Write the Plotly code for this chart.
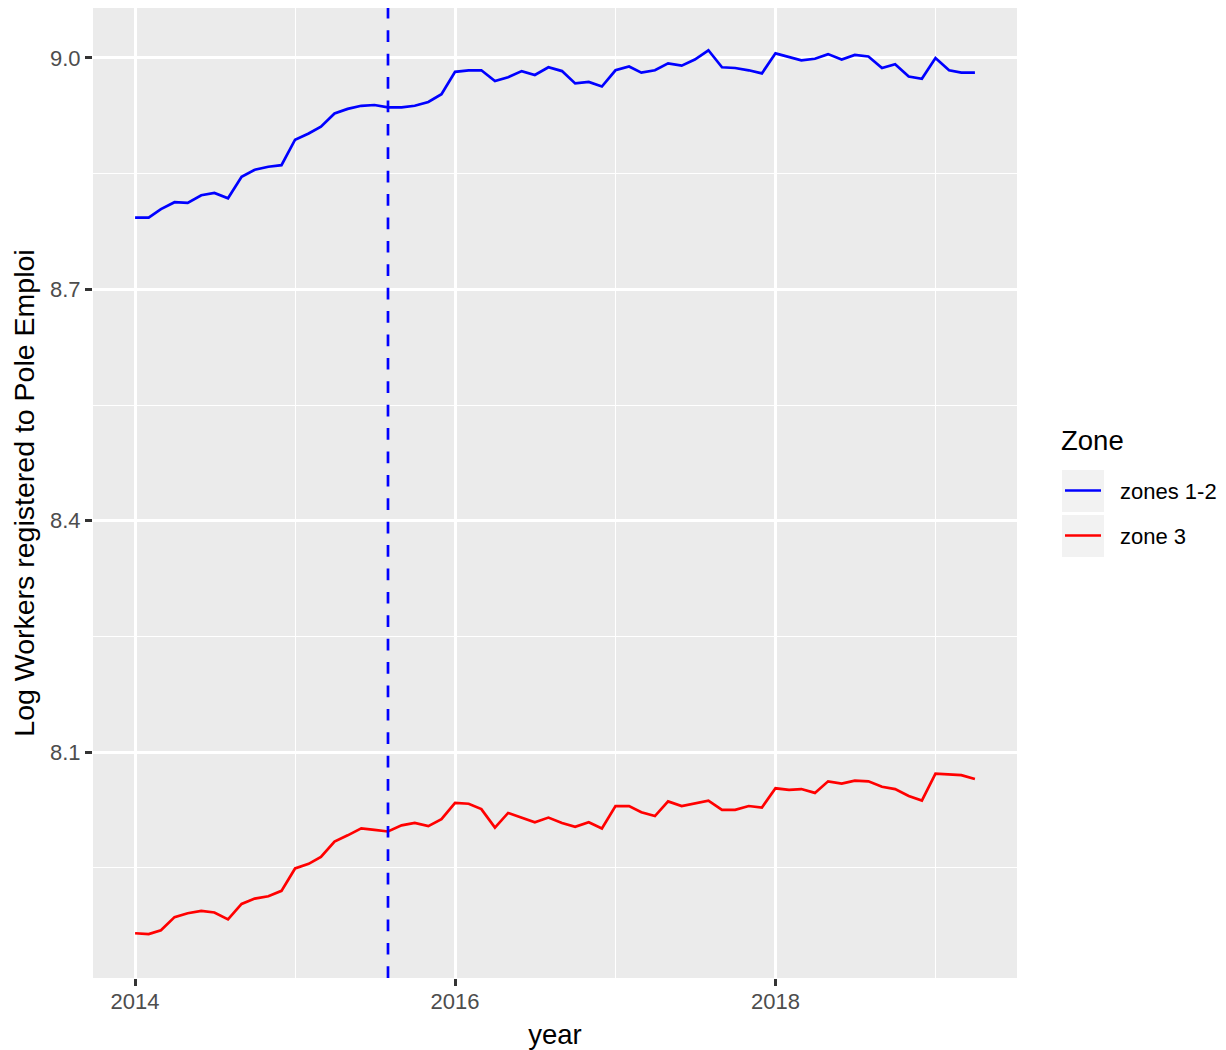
import pandas as pd
import plotly.graph_objects as go

# ---- data (monthly, Jan 2014 - Apr 2019) ----
months = pd.date_range("2014-01-01", "2019-04-01", freq="MS")

zones_12 = [8.793, 8.793, 8.804, 8.813, 8.812, 8.822, 8.825, 8.818, 8.846, 8.855,
            8.859, 8.861, 8.894, 8.902, 8.911, 8.928, 8.934, 8.938, 8.939, 8.936,
            8.936, 8.938, 8.943, 8.953, 8.982, 8.984, 8.984, 8.970, 8.975, 8.983,
            8.978, 8.988, 8.983, 8.967, 8.969, 8.963, 8.984, 8.989, 8.981, 8.984,
            8.993, 8.990, 8.998, 9.010, 8.988, 8.987, 8.984, 8.980, 9.006, 9.001,
            8.997, 8.999, 9.005, 8.998, 9.004, 9.002, 8.987, 8.992, 8.976, 8.973,
            9.000, 8.984, 8.981, 8.981]

zone_3 = [7.865, 7.864, 7.869, 7.886, 7.891, 7.894, 7.892, 7.883, 7.903, 7.910,
          7.913, 7.920, 7.949, 7.955, 7.964, 7.984, 7.992, 8.001, 7.999, 7.997,
          8.005, 8.008, 8.004, 8.013, 8.034, 8.033, 8.026, 8.002, 8.021, 8.015,
          8.009, 8.015, 8.008, 8.003, 8.009, 8.001, 8.030, 8.030, 8.022, 8.017,
          8.036, 8.030, 8.033, 8.037, 8.025, 8.025, 8.030, 8.028, 8.053, 8.051,
          8.052, 8.047, 8.062, 8.059, 8.063, 8.062, 8.055, 8.052, 8.043, 8.037,
          8.072, 8.071, 8.070, 8.065]

series_names = ["zones 1-2", "zone 3"]
series_colors = ["#0000FF", "#FF0000"]
policy_date = "2015-08-01"

x_tickvals = ["2014-01-01", "2016-01-01", "2018-01-01"]
x_ticktext = ["2014", "2016", "2018"]
x_minor = ["2015-01-01", "2017-01-01", "2019-01-01"]
y_tickvals = [8.1, 8.4, 8.7, 9.0]
y_ticktext = ["8.1", "8.4", "8.7", "9.0"]
y_minor = [7.95, 8.25, 8.55, 8.85]

FONT = "Liberation Sans, Arial, sans-serif"

# The page body adds an 8px margin, so the figure is sized/positioned accordingly.
OFF = 8
FIG_W, FIG_H = 1226 - OFF, 1050 - OFF
L, R, T, B = 93 - OFF, 1017 - OFF, 0, 978 - OFF   # plot area in figure pixels
W, H = R - L, B - T

fig = go.Figure()
for name, vals, col in zip(series_names, [zones_12, zone_3], series_colors):
    fig.add_trace(go.Scatter(x=months, y=vals, mode="lines", name=name,
                             line=dict(color=col, width=2.7), showlegend=False))

# dashed vertical line
fig.add_shape(type="line", xref="x", yref="paper", x0=policy_date, x1=policy_date,
              y0=0, y1=1, line=dict(color="#0000FF", width=2.7, dash="11.7px,11.7px"))

# ---- manual legend (ggplot style); positions given in page pixels ----
def px(xp):
    return (xp - OFF - L) / W
def py(yp):
    return (B - (yp - OFF)) / H

fig.add_annotation(text="Zone", xref="paper", yref="paper", x=px(1059), y=py(440),
                   xanchor="left", yanchor="middle", showarrow=False,
                   font=dict(size=27.5, color="black", family=FONT))
key_tops = [470, 515]
for i, (name, col) in enumerate(zip(series_names, series_colors)):
    t = key_tops[i]
    fig.add_shape(type="rect", xref="paper", yref="paper", x0=px(1062), x1=px(1104),
                  y0=py(t + 42), y1=py(t), fillcolor="#F2F2F2", line=dict(width=0),
                  layer="below")
    fig.add_shape(type="line", xref="paper", yref="paper", x0=px(1065), x1=px(1101),
                  y0=py(t + 20.5), y1=py(t + 20.5), line=dict(color=col, width=2.7))
    fig.add_annotation(text=name, xref="paper", yref="paper", x=px(1118), y=py(t + 21),
                       xanchor="left", yanchor="middle", showarrow=False,
                       font=dict(size=22, color="black", family=FONT))

fig.update_layout(
    width=FIG_W, height=FIG_H,
    margin=dict(l=L, r=FIG_W - R, t=T, b=FIG_H - B, pad=0),
    paper_bgcolor="white", plot_bgcolor="#EBEBEB",
    font=dict(family=FONT, color="black"),
    showlegend=False,
)
fig.update_xaxes(
    type="date", range=["2013-09-27", "2019-07-06"],
    tickmode="array", tickvals=x_tickvals, ticktext=x_ticktext,
    showgrid=True, gridcolor="white", gridwidth=2.7, zeroline=False, showline=False,
    ticks="outside", ticklen=7, tickwidth=2.5, tickcolor="#333333",
    tickfont=dict(size=22, color="#4D4D4D", family=FONT), ticklabelstandoff=-3,
    minor=dict(tickmode="array", tickvals=x_minor, showgrid=True, gridcolor="white",
               gridwidth=1.3, ticks=""),
    title=dict(text="year", font=dict(size=27.5, color="black", family=FONT), standoff=11),
)
fig.update_yaxes(
    range=[7.807, 9.0648],
    tickmode="array", tickvals=y_tickvals, ticktext=y_ticktext,
    showgrid=True, gridcolor="white", gridwidth=2.7, zeroline=False, showline=False,
    ticks="outside", ticklen=7, tickwidth=2.5, tickcolor="#333333",
    tickfont=dict(size=22, color="#4D4D4D", family=FONT),
    minor=dict(tickmode="array", tickvals=y_minor, showgrid=True, gridcolor="white",
               gridwidth=1.3, ticks=""),
    title=dict(text="Log Workers registered to Pole Emploi",
               font=dict(size=28.5, color="black", family=FONT), standoff=7),
)

fig.write_html("out.html")
